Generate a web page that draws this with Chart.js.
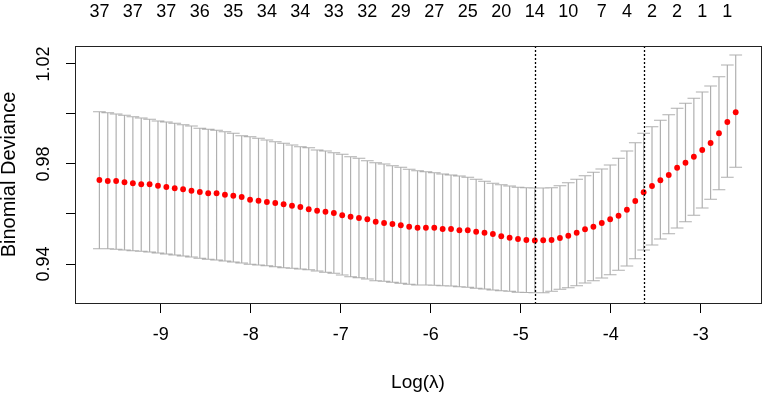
<!DOCTYPE html>
<html><head><meta charset="utf-8">
<script src="https://cdn.jsdelivr.net/npm/chart.js@4.4.1/dist/chart.umd.min.js"></script>
<style>html,body{margin:0;padding:0;background:#fff;}canvas{display:block;}</style>
</head><body>
<canvas id="c" width="765" height="397"></canvas>
<script>
const logLambda = [-9.681,-9.588,-9.495,-9.402,-9.309,-9.216,-9.123,-9.030,-8.937,-8.844,
 -8.751,-8.658,-8.565,-8.472,-8.379,-8.286,-8.193,-8.100,-8.007,-7.913,
 -7.820,-7.727,-7.634,-7.541,-7.448,-7.355,-7.262,-7.169,-7.076,-6.983,
 -6.890,-6.797,-6.704,-6.611,-6.518,-6.425,-6.332,-6.239,-6.146,-6.053,
 -5.960,-5.867,-5.774,-5.681,-5.588,-5.495,-5.402,-5.309,-5.216,-5.123,
 -5.030,-4.937,-4.843,-4.750,-4.657,-4.564,-4.471,-4.378,-4.285,-4.192,
 -4.099,-4.006,-3.913,-3.820,-3.727,-3.634,-3.541,-3.448,-3.355,-3.262,
 -3.169,-3.076,-2.983,-2.890,-2.797,-2.704,-2.611];
const cvm = [0.9736,0.9732,0.9732,0.9727,0.9723,0.9719,0.9719,0.9713,0.9708,0.9703,
 0.9699,0.9693,0.9688,0.9683,0.9683,0.9677,0.9673,0.9668,0.9657,0.9653,
 0.9648,0.9644,0.9639,0.9633,0.9628,0.9619,0.9613,0.9609,0.9604,0.9595,
 0.9589,0.9584,0.9579,0.9569,0.9564,0.9560,0.9555,0.9549,0.9545,0.9545,
 0.9545,0.9540,0.9540,0.9535,0.9535,0.9529,0.9525,0.9520,0.9511,0.9505,
 0.9500,0.9496,0.9494,0.9495,0.9496,0.9504,0.9513,0.9525,0.9539,0.9549,
 0.9564,0.9579,0.9593,0.9617,0.9652,0.9687,0.9712,0.9735,0.9756,0.9785,
 0.9805,0.9829,0.9856,0.9884,0.9923,0.9968,1.0007];
const cvup = [1.0009,1.0005,1.0000,0.9995,0.9989,0.9984,0.9979,0.9972,0.9968,0.9963,
 0.9957,0.9952,0.9943,0.9939,0.9935,0.9929,0.9923,0.9913,0.9909,0.9903,
 0.9896,0.9889,0.9883,0.9876,0.9869,0.9865,0.9856,0.9852,0.9845,0.9839,
 0.9829,0.9823,0.9813,0.9805,0.9800,0.9793,0.9787,0.9779,0.9773,0.9769,
 0.9765,0.9760,0.9756,0.9752,0.9747,0.9739,0.9731,0.9723,0.9717,0.9712,
 0.9707,0.9705,0.9704,0.9704,0.9705,0.9713,0.9725,0.9739,0.9753,0.9767,
 0.9780,0.9796,0.9823,0.9852,0.9885,0.9923,0.9949,0.9975,0.9997,1.0023,
 1.0043,1.0063,1.0088,1.0112,1.0149,1.0196,1.0236];
const cvlo = [0.9461,0.9461,0.9459,0.9456,0.9453,0.9451,0.9448,0.9444,0.9440,0.9436,
 0.9432,0.9428,0.9423,0.9419,0.9416,0.9412,0.9408,0.9404,0.9399,0.9396,
 0.9393,0.9389,0.9385,0.9383,0.9380,0.9377,0.9372,0.9367,0.9363,0.9356,
 0.9349,0.9345,0.9340,0.9333,0.9331,0.9327,0.9323,0.9319,0.9316,0.9316,
 0.9315,0.9313,0.9312,0.9309,0.9307,0.9303,0.9300,0.9296,0.9293,0.9291,
 0.9287,0.9286,0.9285,0.9285,0.9291,0.9299,0.9305,0.9313,0.9324,0.9333,
 0.9344,0.9357,0.9375,0.9392,0.9421,0.9456,0.9476,0.9500,0.9521,0.9544,
 0.9569,0.9595,0.9624,0.9659,0.9697,0.9747,0.9787];
const nzTopIndex = [0,4,8,12,16,20,24,28,32,36,40,44,48,52,56,60,63,66,69,72,75];
const nzTopLabels = ['37','37','37','36','35','34','34','33','32','29','27','25','20','14','10','7','4','2','2','1','1'];
const xTickValues = [-9,-8,-7,-6,-5,-4,-3];
const yTickValues = [0.94,0.96,0.98,1.00,1.02];
const yTickLabels = ['0.94','','0.98','','1.02'];
const logLambdaMin = -4.843;
const logLambda1se = -3.634;

const FONT = "'Liberation Sans Narrow', 'Liberation Sans', Arial, sans-serif";
const X_MIN = -9.952, X_MAX = -2.330, Y_MIN = 0.9244, Y_MAX = 1.0272;

const rPlot = {
  id: 'rPlot',
  beforeDatasetsDraw(chart) {
    const {ctx, scales: {x, y}} = chart;
    const barw = (Math.max(...logLambda) - Math.min(...logLambda)) * 0.01;
    ctx.save();
    ctx.strokeStyle = '#b0b0b0';
    ctx.lineWidth = 1.2;
    ctx.beginPath();
    for (let i = 0; i < logLambda.length; i++) {
      const px = x.getPixelForValue(logLambda[i]);
      const pl = x.getPixelForValue(logLambda[i] - barw);
      const pr = x.getPixelForValue(logLambda[i] + barw);
      const pu = y.getPixelForValue(cvup[i]);
      const pd = y.getPixelForValue(cvlo[i]);
      ctx.moveTo(px, pu); ctx.lineTo(px, pd);
      ctx.moveTo(pl, pu); ctx.lineTo(pr, pu);
      ctx.moveTo(pl, pd); ctx.lineTo(pr, pd);
    }
    ctx.stroke();
    ctx.restore();
  },
  afterDatasetsDraw(chart) {
    const {ctx, chartArea: a, scales: {x}} = chart;
    ctx.save();
    ctx.strokeStyle = '#000';
    ctx.lineWidth = 1.3;
    ctx.setLineDash([2, 2]);
    [logLambdaMin, logLambda1se].forEach(v => {
      const px = Math.round(x.getPixelForValue(v)) + 0.5;
      ctx.beginPath();
      ctx.moveTo(px, a.top);
      ctx.lineTo(px, a.bottom);
      ctx.stroke();
    });
    ctx.setLineDash([]);
    ctx.lineWidth = 1;
    ctx.strokeStyle = '#222';
    ctx.strokeRect(Math.round(a.left) + 0.5, Math.round(a.top) + 0.5,
      Math.round(a.right - a.left), Math.round(a.bottom - a.top));
    ctx.restore();
  }
};

new Chart(document.getElementById('c'), {
  type: 'scatter',
  data: {
    datasets: [{
      data: logLambda.map((v, i) => ({x: v, y: cvm[i]})),
      pointRadius: 2.9,
      pointBackgroundColor: '#ff0000',
      pointBorderWidth: 0,
      showLine: false
    }]
  },
  options: {
    responsive: false,
    devicePixelRatio: 1,
    animation: false,
    layout: {padding: {left: 0, right: 4, top: 0, bottom: 0}},
    plugins: {legend: {display: false}, tooltip: {enabled: false}},
    scales: {
      x: {
        type: 'linear', position: 'bottom', min: X_MIN, max: X_MAX,
        afterBuildTicks: s => { s.ticks = xTickValues.map(v => ({value: v})); },
        afterFit: s => { s.height = 94; },
        grid: {drawOnChartArea: false, drawTicks: true, tickLength: 10, color: '#000'},
        border: {display: false},
        ticks: {font: {family: FONT, size: 18}, color: '#000', padding: 11, maxRotation: 0, autoSkip: false,
          callback: v => String(v)},
        title: {display: true, text: 'Log(λ)', font: {family: FONT, size: 19}, color: '#000', padding: {top: 0, bottom: 3}}
      },
      x2: {
        type: 'linear', position: 'top', min: X_MIN, max: X_MAX,
        afterBuildTicks: s => { s.ticks = nzTopIndex.map(i => ({value: logLambda[i]})); },
        afterFit: s => { s.height = 46; },
        grid: {display: false, drawTicks: false},
        border: {display: false},
        ticks: {font: {family: FONT, size: 18}, color: '#000', padding: 23, maxRotation: 0, autoSkip: false,
          callback: (v, idx) => nzTopLabels[idx]}
      },
      y: {
        type: 'linear', position: 'left', min: Y_MIN, max: Y_MAX,
        afterBuildTicks: s => { s.ticks = yTickValues.map(v => ({value: v})); },
        afterFit: s => { s.width = 75; },
        grid: {drawOnChartArea: false, drawTicks: true, tickLength: 9, color: '#000'},
        border: {display: false},
        ticks: {font: {family: FONT, size: 18}, color: '#000', padding: 4, minRotation: 90, maxRotation: 90,
          crossAlign: 'center', autoSkip: false, callback: (v, idx) => yTickLabels[idx]},
        title: {display: true, text: 'Binomial Deviance', font: {family: "'Liberation Sans', Arial, sans-serif", size: 20},
          color: '#000', padding: {top: -3, bottom: 0}}
      }
    }
  },
  plugins: [rPlot]
});
</script>
</body></html>
